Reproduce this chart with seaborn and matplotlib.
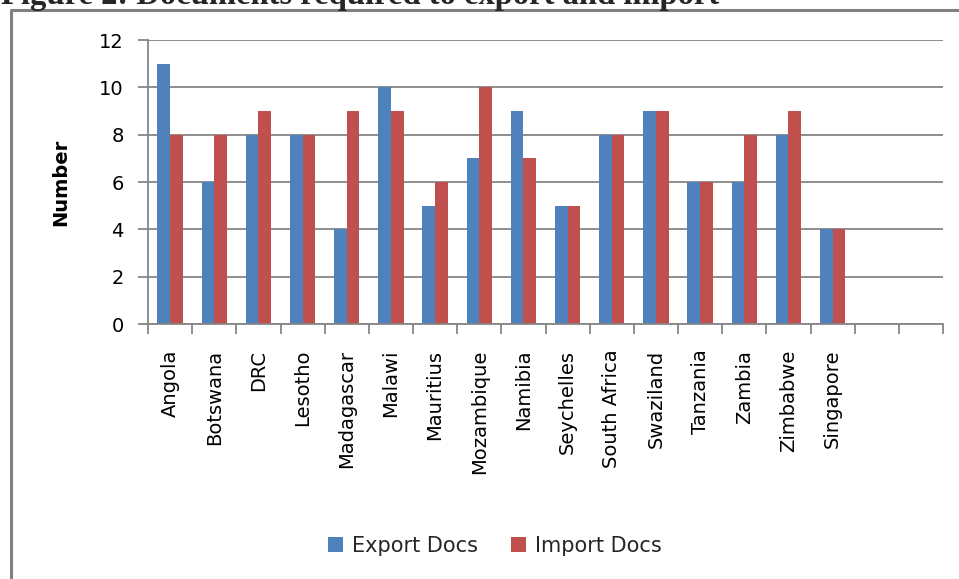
import matplotlib
matplotlib.use("Agg")
import matplotlib.pyplot as plt
import seaborn as sns
import pandas as pd
import numpy as np
from matplotlib.lines import Line2D

countries = ["Angola", "Botswana", "DRC", "Lesotho", "Madagascar", "Malawi", "Mauritius",
             "Mozambique", "Namibia", "Seychelles", "South Africa", "Swaziland", "Tanzania",
             "Zambia", "Zimbabwe", "Singapore"]
export_docs = [11, 6, 8, 8, 4, 10, 5, 7, 9, 5, 8, 9, 6, 6, 8, 4]
import_docs = [8, 8, 9, 8, 9, 9, 6, 10, 7, 5, 8, 9, 6, 8, 9, 4]
empty_slots = [" ", "  "]
series = ["Export Docs", "Import Docs"]
colors = ["#4F81BD", "#C0504D"]
yticks = [0, 2, 4, 6, 8, 10, 12]

df = pd.DataFrame({
    "Country": countries * 2,
    "Number": export_docs + import_docs,
    "Series": [series[0]] * len(countries) + [series[1]] * len(countries),
})
order = countries + empty_slots

sns.set_theme(style="white")
plt.rcParams["font.family"] = ["DejaVu Sans"]

W, H = 959, 579
fig = plt.figure(figsize=(W/100, H/100), dpi=100)
ax = fig.add_axes([148/W, 1-324/H, (943-148)/W, (324-40)/H])

sns.barplot(data=df, x="Country", y="Number", hue="Series", order=order,
            hue_order=series, palette=colors, width=0.57, saturation=1,
            edgecolor="none", ax=ax, legend=True)

grid_c = "#868686"
ax.set_ylim(0, 12)
ax.set_xlim(-0.5, len(order) - 0.5)
ax.set_yticks(yticks)
ax.yaxis.grid(True, color=grid_c, linewidth=1.3)
ax.set_axisbelow(True)
for s in ["top", "right"]:
    ax.spines[s].set_visible(False)
for s in ["left", "bottom"]:
    ax.spines[s].set_color(grid_c)
    ax.spines[s].set_linewidth(1.3)

ax.set_xticks(range(len(order)))
ax.set_xticklabels(order, rotation=90, fontsize=14, color="black")
ax.tick_params(axis="x", which="major", length=0, pad=18.5)
ax.set_xticks(np.arange(-0.5, len(order), 1), minor=True)
ax.tick_params(axis="x", which="minor", length=7, width=1.3, color=grid_c, direction="out", bottom=True)
ax.tick_params(axis="y", length=7, width=1.3, color=grid_c, direction="out", left=True,
               labelsize=14, pad=10.5, labelcolor="black")

ax.set_xlabel("")
ax.set_ylabel("Number", fontsize=14, fontweight="bold", labelpad=21, color="black")

handles, labels = ax.get_legend_handles_labels()
ax.legend_.remove()
fig.legend(handles, labels, loc="center", bbox_to_anchor=(495/W, 1-546/H), ncol=2,
           frameon=False, fontsize=15, handlelength=0.7, handleheight=0.7,
           columnspacing=1.6, handletextpad=0.45)

frame_c = "#808080"
fig.add_artist(Line2D([10.5/W, 10.5/W], [-0.05, 1-10/H], transform=fig.transFigure,
                      color=frame_c, linewidth=2.2, solid_capstyle="butt"))
fig.add_artist(Line2D([9.5/W, 1.05], [1-10/H, 1-10/H], transform=fig.transFigure,
                      color=frame_c, linewidth=2.2, solid_capstyle="butt"))

fig.text(1/W, 1-4/H, "Figure 2: Documents required to export and import",
         fontsize=23.5, fontweight="bold", family="Liberation Serif", va="baseline", ha="left")

fig.savefig("out.png", dpi=100)
